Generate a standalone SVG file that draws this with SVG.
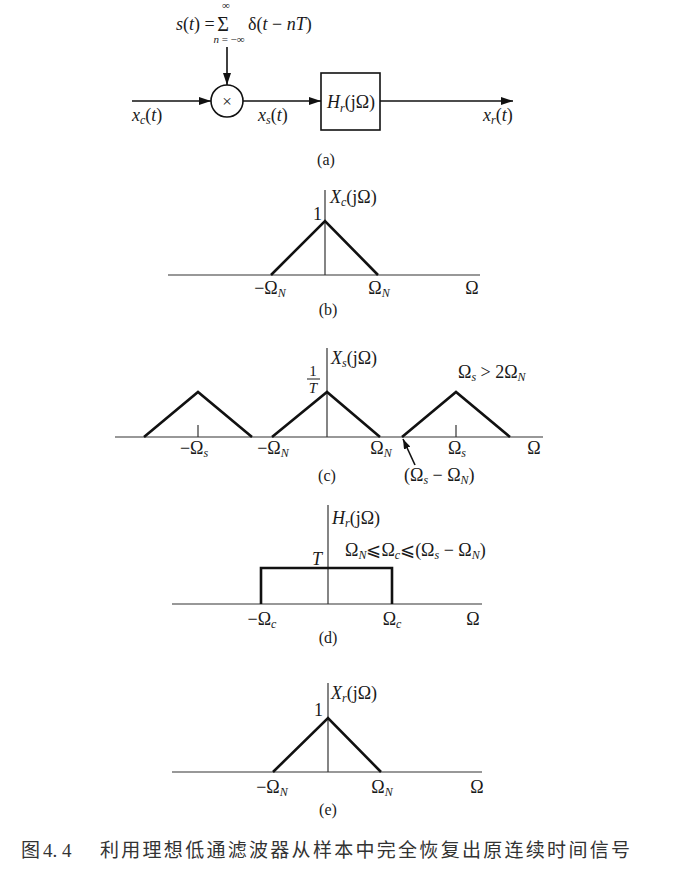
<svg xmlns="http://www.w3.org/2000/svg" width="675" height="877" viewBox="0 0 675 877">
<defs>
<style>
.t{font-family:"Liberation Serif","DejaVu Serif",serif;font-size:18px;fill:#1a1a1a}
.i{font-style:italic}
.s{font-size:12px}
.m{text-anchor:middle}
.e{text-anchor:end}
.ax{stroke:#333;stroke-width:1.2;fill:none}
.sig{stroke:#111;stroke-width:2.6;fill:none;stroke-linejoin:miter}
.ln{stroke:#111;stroke-width:1.6;fill:none}
.cap{font-family:"Noto Sans CJK SC","Noto Sans",sans-serif;font-size:19px;fill:#333}
</style>
<marker id="ah" markerUnits="userSpaceOnUse" markerWidth="12" markerHeight="8" refX="12" refY="4" orient="auto">
<path d="M0,0 L12,4 L0,8 z" fill="#111"/>
</marker>
<marker id="ah2" markerUnits="userSpaceOnUse" markerWidth="10" markerHeight="7" refX="10" refY="3.5" orient="auto">
<path d="M0,0 L10,3.5 L0,7 z" fill="#111"/>
</marker>
</defs>
<rect width="675" height="877" fill="#fff"/>

<!-- Panel (a) -->
<g id="panel-a">
<g id="formula">
<text class="t" x="176" y="30"><tspan class="i">s</tspan>(<tspan class="i">t</tspan>) =</text>
<text class="t m" x="223" y="31" style="font-size:20px">Σ</text>
<text class="t m s" x="226" y="9" style="font-size:11px">∞</text>
<text class="t m s" x="229" y="43" style="font-size:11px"><tspan class="i">n</tspan> = −∞</text>
<text class="t" x="248" y="30">δ(<tspan class="i">t</tspan> − <tspan class="i">nT</tspan>)</text>
</g>
<g id="multiplier">
<circle cx="227" cy="101" r="16" class="ln"/>
<text class="t m" x="227" y="107" style="font-size:17px">×</text>
</g>
<g id="filter">
<rect x="321" y="73" width="59" height="57" class="ln"/>
<text class="t m" x="351" y="108"><tspan class="i">H</tspan><tspan class="i s" dy="4">r</tspan><tspan dy="-4">(jΩ)</tspan></text>
</g>
<g id="connectors">
<line x1="227" y1="47" x2="227" y2="85" class="ln" marker-end="url(#ah)"/>
<line x1="132" y1="101" x2="211" y2="101" class="ln" marker-end="url(#ah)"/>
<line x1="243" y1="101" x2="321" y2="101" class="ln" marker-end="url(#ah)"/>
<line x1="380" y1="101" x2="513" y2="101" class="ln" marker-end="url(#ah)"/>
</g>
<text class="t" x="132" y="121"><tspan class="i">x</tspan><tspan class="i s" dy="3">c</tspan><tspan dy="-3">(</tspan><tspan class="i">t</tspan>)</text>
<text class="t" x="258" y="121"><tspan class="i">x</tspan><tspan class="i s" dy="3">s</tspan><tspan dy="-3">(</tspan><tspan class="i">t</tspan>)</text>
<text class="t" x="483" y="121"><tspan class="i">x</tspan><tspan class="i s" dy="3">r</tspan><tspan dy="-3">(</tspan><tspan class="i">t</tspan>)</text>
<text class="t m" x="326" y="165" style="font-size:16px">(a)</text>
</g>

<!-- Panel (b) -->
<g id="panel-b">
<line x1="168" y1="275" x2="480" y2="275" class="ax"/>
<line x1="325" y1="190" x2="325" y2="275" class="ax"/>
<polyline points="271,275 325,221 378,275" class="sig"/>
<text class="t e" x="322" y="220">1</text>
<text class="t" x="330" y="203"><tspan class="i">X</tspan><tspan class="i s" dy="3">c</tspan><tspan dy="-3">(jΩ)</tspan></text>
<text class="t m" x="270" y="294">−Ω<tspan class="i s" dy="3">N</tspan></text>
<text class="t m" x="379" y="294">Ω<tspan class="i s" dy="3">N</tspan></text>
<text class="t m" x="472" y="294">Ω</text>
<text class="t m" x="328" y="315" style="font-size:16px">(b)</text>
</g>

<!-- Panel (c) -->
<g id="panel-c">
<line x1="115" y1="437" x2="543" y2="437" class="ax"/>
<line x1="327" y1="348" x2="327" y2="437" class="ax"/>
<line x1="198" y1="425" x2="198" y2="437" class="ax"/>
<line x1="456" y1="425" x2="456" y2="437" class="ax"/>
<polyline points="144,437 198,392 252,437" class="sig"/>
<polyline points="272,437 327,392 380,437" class="sig"/>
<polyline points="402,437 456,392 510,437" class="sig"/>
<text class="t m" x="313" y="376" style="font-size:15px">1</text>
<line x1="307" y1="379" x2="320" y2="379" stroke="#1a1a1a" stroke-width="1"/>
<text class="t m i" x="313" y="393" style="font-size:15px">T</text>
<text class="t" x="331" y="364"><tspan class="i">X</tspan><tspan class="i s" dy="3">s</tspan><tspan dy="-3">(jΩ)</tspan></text>
<text class="t" x="458" y="378">Ω<tspan class="i s" dy="3">s</tspan><tspan dy="-3"> &gt; 2Ω</tspan><tspan class="i s" dy="3">N</tspan></text>
<text class="t m" x="194" y="454">−Ω<tspan class="i s" dy="3">s</tspan></text>
<text class="t m" x="273" y="454">−Ω<tspan class="i s" dy="3">N</tspan></text>
<text class="t m" x="381" y="454">Ω<tspan class="i s" dy="3">N</tspan></text>
<text class="t m" x="457" y="454">Ω<tspan class="i s" dy="3">s</tspan></text>
<text class="t m" x="534" y="454">Ω</text>
<line x1="415" y1="465" x2="403" y2="439" class="ln" stroke-width="1.2" marker-end="url(#ah2)"/>
<text class="t" x="404" y="481">(Ω<tspan class="i s" dy="3">s</tspan><tspan dy="-3"> − Ω</tspan><tspan class="i s" dy="3">N</tspan><tspan dy="-3">)</tspan></text>
<text class="t m" x="327" y="481" style="font-size:16px">(c)</text>
</g>

<!-- Panel (d) -->
<g id="panel-d">
<line x1="172" y1="604" x2="482" y2="604" class="ax"/>
<line x1="328" y1="505" x2="328" y2="604" class="ax"/>
<polyline points="261,604 261,568 392,568 392,604" class="sig"/>
<text class="t m i" x="317" y="565">T</text>
<text class="t" x="332" y="524"><tspan class="i">H</tspan><tspan class="i s" dy="3">r</tspan><tspan dy="-3">(jΩ)</tspan></text>
<text class="t" x="345" y="556">Ω<tspan class="i s" dy="3">N</tspan><tspan dy="-3">⩽Ω</tspan><tspan class="i s" dy="3">c</tspan><tspan dy="-3">⩽(Ω</tspan><tspan class="i s" dy="3">s</tspan><tspan dy="-3"> − Ω</tspan><tspan class="i s" dy="3">N</tspan><tspan dy="-3">)</tspan></text>
<text class="t m" x="262" y="625">−Ω<tspan class="i s" dy="3">c</tspan></text>
<text class="t m" x="392" y="625">Ω<tspan class="i s" dy="3">c</tspan></text>
<text class="t m" x="473" y="625">Ω</text>
<text class="t m" x="328" y="643" style="font-size:16px">(d)</text>
</g>

<!-- Panel (e) -->
<g id="panel-e">
<line x1="172" y1="772" x2="482" y2="772" class="ax"/>
<line x1="328" y1="683" x2="328" y2="772" class="ax"/>
<polyline points="273,772 328,718 381,772" class="sig"/>
<text class="t e" x="323" y="716">1</text>
<text class="t" x="331" y="699"><tspan class="i">X</tspan><tspan class="i s" dy="3">r</tspan><tspan dy="-3">(jΩ)</tspan></text>
<text class="t m" x="272" y="793">−Ω<tspan class="i s" dy="3">N</tspan></text>
<text class="t m" x="382" y="793">Ω<tspan class="i s" dy="3">N</tspan></text>
<text class="t m" x="477" y="793">Ω</text>
<text class="t m" x="328" y="815" style="font-size:16px">(e)</text>
</g>

<!-- Caption -->
<g id="caption">
<text class="cap" x="21" y="857">图<tspan font-family="Liberation Serif" font-size="19" dx="3">4. 4</tspan></text>
<text class="cap" x="100" y="857" textLength="530" lengthAdjust="spacing">利用理想低通滤波器从样本中完全恢复出原连续时间信号</text>
</g>
</svg>
